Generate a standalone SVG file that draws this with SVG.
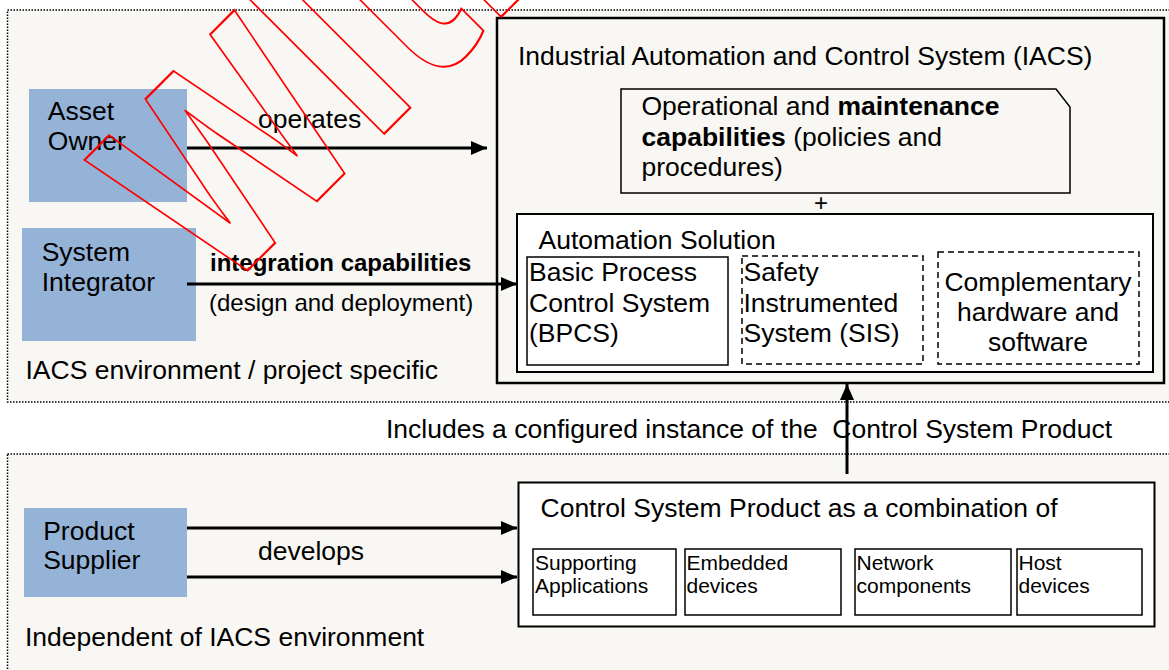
<svg xmlns="http://www.w3.org/2000/svg" width="1169" height="670" viewBox="0 0 1169 670">
<defs>
<style>
.t{font-family:"Liberation Sans",Arial,sans-serif;font-size:26.5px;fill:#000}
.b{font-weight:bold}
.lbl{font-size:24px}
.sm{font-size:21px}
.region{fill:#f8f7f3;stroke:#000;stroke-width:1.5;stroke-dasharray:1.5 1.5}
.actor{fill:#95b3d7}
.box{fill:#fff;stroke:#000;stroke-width:1.5}
.dash{stroke-dasharray:6 4}
.conn{stroke:#000;stroke-width:3;fill:none;marker-end:url(#ah)}
.wm{font-family:"Liberation Sans",Arial,sans-serif;font-size:366px;font-weight:bold;fill:none;stroke:#ff0000;stroke-width:2.2}
</style>
<marker id="ah" viewBox="0 0 16 14" refX="16" refY="7" markerWidth="16" markerHeight="14" markerUnits="userSpaceOnUse" orient="auto">
<path d="M0,0 L16,7 L0,14 z" fill="#000"/>
</marker>
</defs>
<rect width="1169" height="670" fill="#fff"/>

<g id="region-project">
<rect class="region" x="7.5" y="10" width="1180" height="392"/>
<text class="t" x="25.5" y="379">IACS environment / project specific</text>
</g>
<g id="region-independent">
<rect class="region" x="7.5" y="454" width="1180" height="240"/>
<text class="t" x="25" y="646">Independent of IACS environment</text>
</g>

<g id="iacs">
<rect x="497" y="18" width="667" height="365" fill="none" stroke="#000" stroke-width="2.5"/>
<text class="t" x="518" y="65">Industrial Automation and Control System (IACS)</text>
</g>

<g id="operational">
<path d="M621,89 H1056 L1070,107 V193 H621 Z" fill="none" stroke="#000" stroke-width="1.5"/>
<text class="t" x="641.5" y="115">Operational and <tspan class="b">maintenance</tspan></text>
<text class="t" x="641.5" y="146"><tspan class="b">capabilities</tspan> (policies and</text>
<text class="t" x="641.5" y="176">procedures)</text>
</g>

<g id="plus">
<text class="t" x="821" y="211" style="font-size:24px" text-anchor="middle">+</text>
</g>

<g id="automation-solution">
<rect x="517" y="214" width="636" height="158" fill="#fff" stroke="#000" stroke-width="2"/>
<text class="t" x="538.5" y="249">Automation Solution</text>
</g>

<g id="bpcs">
<rect class="box" x="527" y="257" width="201" height="108"/>
<text class="t" x="529" y="281">Basic Process</text>
<text class="t" x="529" y="312">Control System</text>
<text class="t" x="529" y="342">(BPCS)</text>
</g>

<g id="sis">
<rect class="box dash" x="742" y="256" width="181" height="108"/>
<text class="t" x="743.5" y="281">Safety</text>
<text class="t" x="743.5" y="312">Instrumented</text>
<text class="t" x="743.5" y="342">System (SIS)</text>
</g>

<g id="complementary">
<rect class="box dash" x="938" y="252" width="201" height="112"/>
<text class="t" x="1038" y="291" text-anchor="middle">Complementary</text>
<text class="t" x="1038" y="321" text-anchor="middle">hardware and</text>
<text class="t" x="1038" y="351" text-anchor="middle">software</text>
</g>

<g id="asset-owner">
<rect class="actor" x="29" y="89" width="158" height="113"/>
<text class="t" x="47.8" y="120">Asset</text>
<text class="t" x="47.8" y="150">Owner</text>
</g>

<g id="system-integrator">
<rect class="actor" x="22" y="228" width="174" height="113"/>
<text class="t" x="41.7" y="261">System</text>
<text class="t" x="41.7" y="291">Integrator</text>
</g>

<g id="product-supplier">
<rect class="actor" x="24" y="508" width="163" height="89"/>
<text class="t" x="43.2" y="540">Product</text>
<text class="t" x="43.2" y="569">Supplier</text>
</g>

<g id="control-system-product">
<rect x="518.5" y="482.5" width="636" height="144" fill="#fff" stroke="#000" stroke-width="2"/>
<text class="t" x="540.5" y="517">Control System Product as a combination of</text>
</g>
<g id="supporting-applications">
<rect class="box" x="533" y="549" width="143" height="66"/>
<text class="t sm" x="535" y="570">Supporting</text>
<text class="t sm" x="535" y="593">Applications</text>
</g>
<g id="embedded-devices">
<rect class="box" x="685" y="549" width="156" height="66"/>
<text class="t sm" x="686.5" y="570">Embedded</text>
<text class="t sm" x="686.5" y="593">devices</text>
</g>
<g id="network-components">
<rect class="box" x="855" y="549" width="156" height="66"/>
<text class="t sm" x="856.5" y="570">Network</text>
<text class="t sm" x="856.5" y="593">components</text>
</g>
<g id="host-devices">
<rect class="box" x="1017" y="549" width="125" height="66"/>
<text class="t sm" x="1018.5" y="570">Host</text>
<text class="t sm" x="1018.5" y="593">devices</text>
</g>

<g id="connectors">
<path class="conn" d="M187,148 H487"/>
<path class="conn" d="M187,284 H517"/>
<path class="conn" d="M187,528 H517"/>
<path class="conn" d="M187,577 H517"/>
<path class="conn" d="M847,474 V384"/>
<text class="t" x="258" y="128">operates</text>
<text class="t lbl b" x="210" y="271">integration capabilities</text>
<text class="t lbl" x="209" y="311">(design and deployment)</text>
<text class="t" x="258" y="560">develops</text>
<text class="t" x="386" y="438" style="white-space:pre">Includes a configured instance of the  Control System Product</text>
</g>

<g id="watermark">
<text class="wm" transform="translate(221.8,296.2) rotate(-45) scale(0.74,1)">withdrawn</text>
</g>
</svg>
